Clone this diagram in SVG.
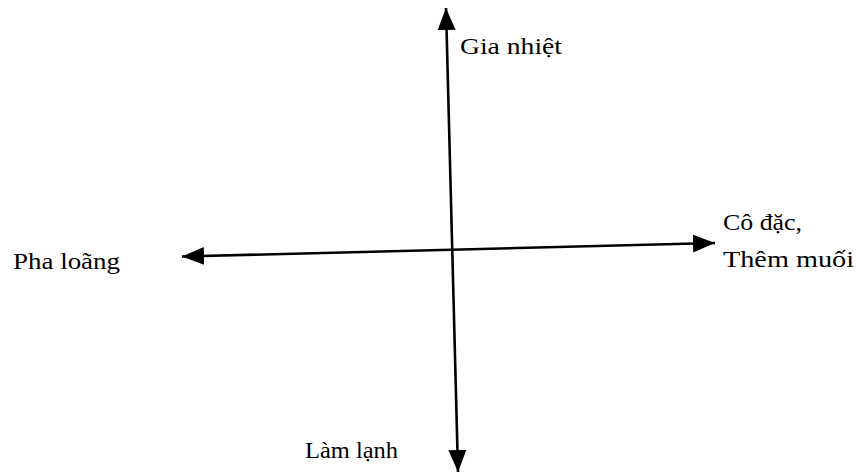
<svg xmlns="http://www.w3.org/2000/svg" width="856" height="474" viewBox="0 0 856 474">
  <style>
    .lbl { font-family: "Liberation Serif", "Times New Roman", serif; font-size: 24px; fill: #000; }
    .axis { stroke: #000; stroke-width: 2.6; fill: none; marker-start: url(#arr); marker-end: url(#arr); }
  </style>
  <defs>
    <marker id="arr" markerUnits="userSpaceOnUse" markerWidth="24" markerHeight="20" refX="22" refY="9.5" orient="auto-start-reverse" viewBox="0 0 24 20">
      <path d="M0,0.5 L22,9.5 L0,18.5 Z" fill="#000"/>
    </marker>
  </defs>
  <rect width="856" height="474" fill="#fff"/>
  <g id="connectors">
    <path class="axis" d="M458,472 L446,8"/>
    <path class="axis" d="M182,256.5 L715,243"/>
  </g>
  <g id="gia-nhiet">
    <text class="lbl" x="460" y="54" textLength="102" lengthAdjust="spacingAndGlyphs">Gia nhiệt</text>
  </g>
  <g id="co-dac">
    <text class="lbl" x="723" y="230" textLength="79" lengthAdjust="spacingAndGlyphs">Cô đặc,</text>
    <text class="lbl" x="723" y="267" textLength="131" lengthAdjust="spacingAndGlyphs">Thêm muối</text>
  </g>
  <g id="pha-loang">
    <text class="lbl" x="13" y="269" textLength="107" lengthAdjust="spacingAndGlyphs">Pha loãng</text>
  </g>
  <g id="lam-lanh">
    <text class="lbl" x="305" y="458" textLength="93" lengthAdjust="spacingAndGlyphs">Làm lạnh</text>
  </g>
</svg>
